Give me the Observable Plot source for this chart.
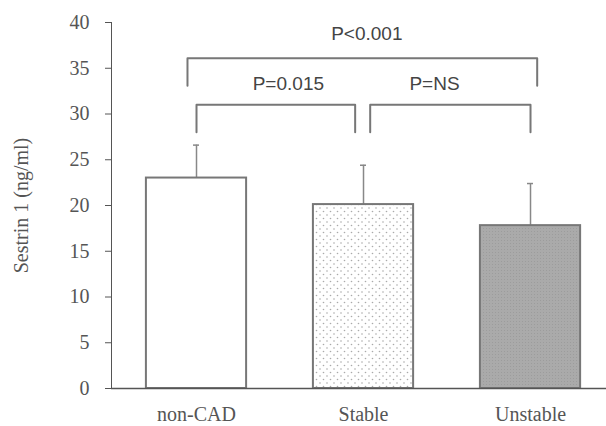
<!DOCTYPE html>
<html><head><meta charset="utf-8">
<script src="https://cdn.jsdelivr.net/npm/d3@7"></script>
<script src="https://cdn.jsdelivr.net/npm/@observablehq/plot@0.6"></script>
<style>body{margin:0;background:#fff}</style>
</head><body><div id="chart"></div>
<script>
const categories = ["non-CAD", "Stable", "Unstable"];
const means = [23.0, 20.1, 17.8];
const sds = [3.6, 4.3, 4.6];
const yTicks = [0, 5, 10, 15, 20, 25, 30, 35, 40];

const bracketLabels = ["P<0.001", "P=0.015", "P=NS"];
const bracketFrom = [-0.054, 0.0, 1.04];
const bracketTo = [2.04, 0.95, 2.0];
const bracketTop = [36.1, 31.0, 31.0];
const bracketLeg = [33.1, 28.0, 28.0];
const labelX = [1.02, 0.55, 1.425];
const labelY = [38.8, 33.3, 33.3];

const barHalf = 0.3;
const bars = categories.map((c, i) => ({i, c, v: means[i], sd: sds[i]}));
const bracketPts = [];
bracketLabels.forEach((l, k) => {
  bracketPts.push({k, x: bracketFrom[k], y: bracketLeg[k]});
  bracketPts.push({k, x: bracketFrom[k], y: bracketTop[k]});
  bracketPts.push({k, x: bracketTo[k], y: bracketTop[k]});
  bracketPts.push({k, x: bracketTo[k], y: bracketLeg[k]});
});
const pLabels = bracketLabels.map((l, k) => ({l, x: labelX[k], y: labelY[k]}));

const gray = "#777";
const svg = Plot.plot({
  width: 606, height: 426,
  marginLeft: 111, marginRight: 0, marginTop: 22, marginBottom: 38,
  style: {fontFamily: "'Liberation Serif', serif", fontSize: "20px", color: "#555", background: "#fff"},
  x: {type: "linear", domain: [-0.509, 2.455], ticks: [0, 1, 2], tickFormat: i => categories[i], tickSize: 0, tickPadding: 18, label: null},
  y: {domain: [0, 40], ticks: yTicks, tickSize: 6, tickPadding: 16, line: true, label: "Sestrin 1 (ng/ml)", labelArrow: "none", labelAnchor: "center", labelOffset: 98},
  color: {type: "ordinal", domain: categories, range: ["#ffffff", "url(#dots)", "url(#grid)"]},
  marks: [
    Plot.ruleX(bars, {x: "i", y1: "v", y2: d => d.v + d.sd, stroke: "#888", strokeWidth: 1.5}),
    Plot.ruleY(bars, {x1: "i", x2: "i", y: d => d.v + d.sd, stroke: "#888", strokeWidth: 1.5, insetLeft: -3, insetRight: -3}),
    Plot.rectY(bars, {x1: d => d.i - barHalf, x2: d => d.i + barHalf, y1: 0, y2: "v", fill: "c", stroke: gray, strokeWidth: 2}),
    Plot.ruleY([0], {stroke: "#555", strokeWidth: 1.5}),
    Plot.line(bracketPts, {x: "x", y: "y", z: "k", stroke: gray, strokeWidth: 2, curve: "linear"}),
    Plot.text(pLabels, {x: "x", y: "y", text: "l", fontFamily: "'Liberation Sans', sans-serif", fontSize: 19, fill: "#444"})
  ]
});
const defs = d3.select(svg).insert("defs", ":first-child");
const dots = defs.append("pattern").attr("id", "dots").attr("patternUnits", "userSpaceOnUse").attr("width", 7).attr("height", 7);
dots.append("rect").attr("width", 7).attr("height", 7).attr("fill", "#fff");
dots.append("circle").attr("cx", 1.5).attr("cy", 1.5).attr("r", 0.8).attr("fill", "#aaa");
dots.append("circle").attr("cx", 5).attr("cy", 5).attr("r", 0.8).attr("fill", "#aaa");
const grid = defs.append("pattern").attr("id", "grid").attr("patternUnits", "userSpaceOnUse").attr("width", 3).attr("height", 3);
grid.append("rect").attr("width", 3).attr("height", 3).attr("fill", "#aaa");
grid.append("rect").attr("width", 1).attr("height", 1).attr("fill", "#9c9c9c");
document.getElementById("chart").appendChild(svg);
</script>
</body></html>
